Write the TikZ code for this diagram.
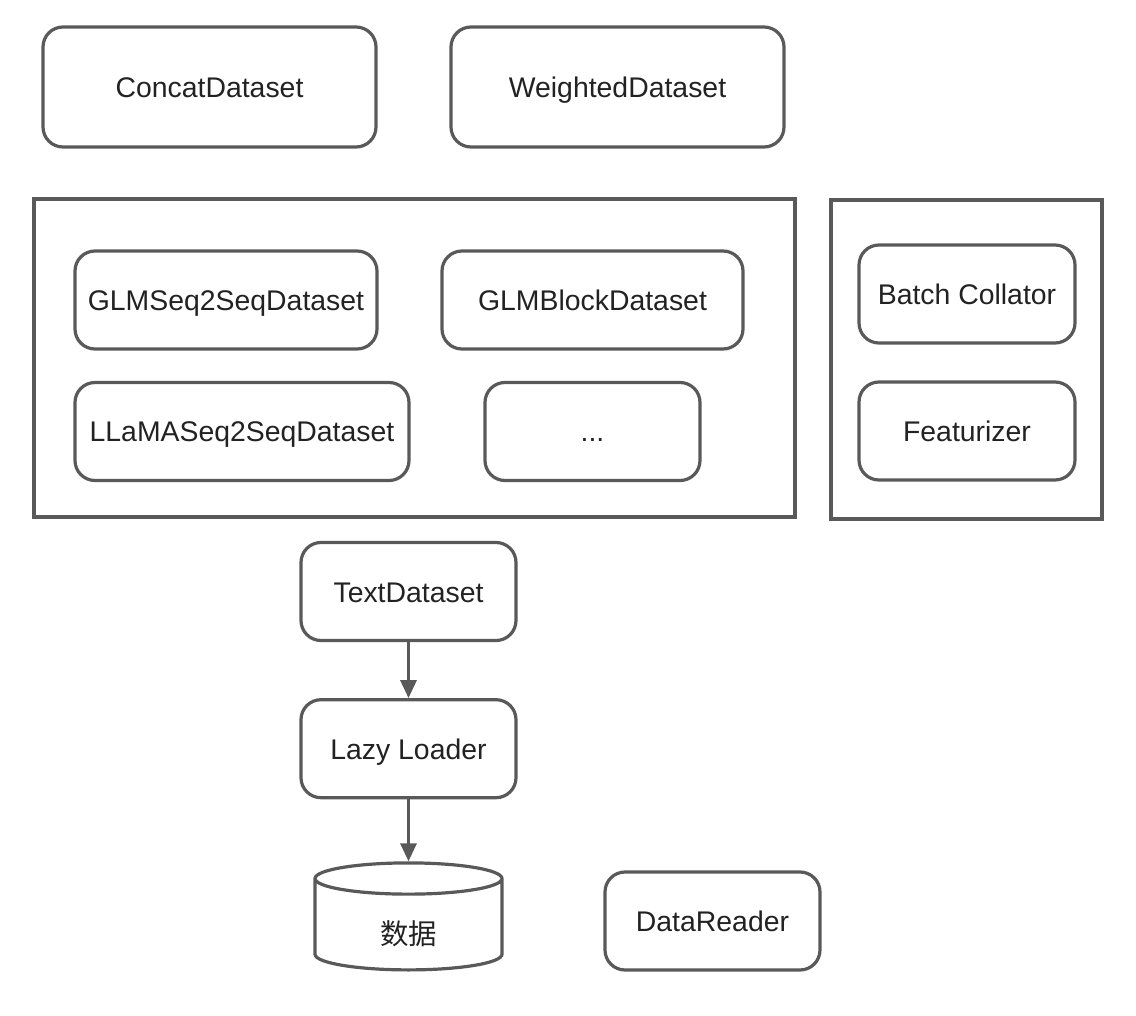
\documentclass[tikz,border=0pt]{standalone}
\usepackage{fontspec}
\setmainfont{Liberation Sans}
\newfontfamily\cjk{Noto Sans CJK SC}
\usetikzlibrary{shapes.geometric, arrows.meta, positioning}
\definecolor{linegray}{HTML}{595959}
\definecolor{textgray}{HTML}{222222}
\tikzstyle{dsbox} = [rectangle, rounded corners=10pt, minimum height=49pt,
text centered, draw=linegray, line width=1.6pt, text=textgray, inner sep=0pt,
text height=10.5pt, text depth=0pt]
\tikzstyle{frame} = [draw=linegray, line width=1.6pt]
\tikzstyle{store} = [cylinder, shape border rotate=90, aspect=0.55,
minimum width=93.5pt, minimum height=53.5pt, draw=linegray, line width=1.6pt,
text=textgray, inner sep=0pt, text height=19pt, text depth=0pt]
\tikzstyle{arrow} = [line width=1.6pt, draw=linegray, -{Triangle[length=9pt,width=8pt]}]

\begin{document}
\begin{tikzpicture}[x=0.5pt, y=-0.5pt, font=\fontsize{14.2}{17}\selectfont]

  \useasboundingbox (0,0) rectangle (1136,1016);

  % wrappers
  \node (concat) [dsbox, minimum width=166.5pt, minimum height=60pt] at (209.5,87) {ConcatDataset};
  \node (weighted) [dsbox, minimum width=166.5pt, minimum height=60pt] at (617.5,87) {WeightedDataset};

  % datasets
  \draw [frame] (34,199) rectangle (795,517);
  \node (glmseq) [dsbox, minimum width=151pt] at (226,300) {GLMSeq2SeqDataset};
  \node (glmblock) [dsbox, minimum width=150.5pt] at (592.5,300) {GLMBlockDataset};
  \node (llama) [dsbox, minimum width=167pt] at (242,431.5) {LLaMASeq2SeqDataset};
  \node (more) [dsbox, minimum width=107.5pt] at (592.5,431.5) {...};

  % collate
  \draw [frame] (831,200) rectangle (1102,519);
  \node (collator) [dsbox, minimum width=108pt] at (967,294) {Batch Collator};
  \node (featurizer) [dsbox, minimum width=108pt] at (967,431) {Featurizer};

  % loading chain
  \node (text) [dsbox, minimum width=107.5pt] at (408.5,591.5) {TextDataset};
  \node (lazy) [dsbox, minimum width=107.5pt, below=28pt of text] {Lazy Loader};
  \node (data) [store, below=31pt of lazy] {\cjk 数据};
  \node (reader) [dsbox, minimum width=107.5pt] at (712.5,921) {DataReader};

  \draw [arrow] (text) -- (lazy);
  \draw [arrow] (lazy) -- (data);

\end{tikzpicture}
\end{document}
